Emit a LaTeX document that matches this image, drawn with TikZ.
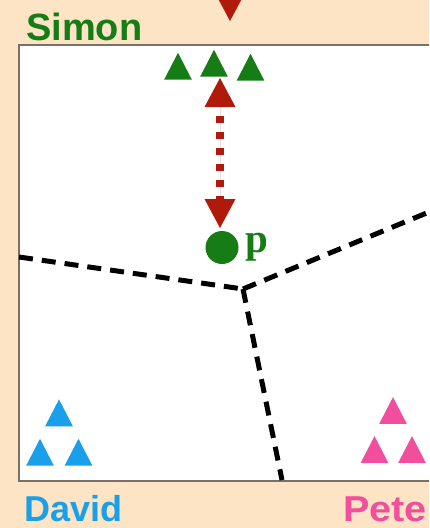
\documentclass[tikz,border=0pt]{standalone}
\usepackage{fontspec}
\setmainfont{Liberation Sans}
\newfontfamily\pfont{Liberation Serif}
\usetikzlibrary{shapes.geometric,arrows.meta}
\definecolor{peach}{HTML}{FCE4C4}
\definecolor{framegray}{HTML}{7A7066}
\definecolor{sgreen}{HTML}{167D16}
\definecolor{ared}{HTML}{B01A0A}
\definecolor{dblue}{HTML}{1AA0EA}
\definecolor{ppink}{HTML}{F24E9E}
\tikzset{
  bighead/.tip={Triangle[width=31pt,length=29pt,line width=0pt]},
  tophead/.tip={Triangle[width=32pt,length=30pt,line width=0pt]}
}
\begin{document}
\begin{tikzpicture}[x=1pt,y=-1pt,
  tri/.style={regular polygon, regular polygon sides=3, minimum size=32pt, inner sep=0pt, yscale=1.12, fill=#1},
  lbl/.style={anchor=base west, inner sep=0pt, font=\bfseries\fontsize{36}{38}\selectfont, text=#1},
  vor/.style={line width=5pt, dash pattern=on 14pt off 9pt, black},
  shaft/.style={line width=7.5pt, draw=ared, fill=ared, dash pattern=on 7pt off 9pt, dash phase=7pt}
]
\useasboundingbox (0,0) rectangle (429,528);
\clip (0,0) rectangle (429,528);
\fill[peach] (0,0) rectangle (429,528);
\draw[fill=white, draw=framegray, line width=1.5pt] (19,45) rectangle (445,481);

% Voronoi dashed lines
\coordinate (J) at (243,289);
\coordinate (L) at (19,257);
\coordinate (R) at (429,212);
\coordinate (B) at (282,480);
\draw[vor] (L) -- (J);
\draw[vor] (J) -- (R);
\draw[vor] (J) -- (B);

% Simon triangles
\node[tri=sgreen] (g1) at (178,70.7) {};
\node[tri=sgreen] (g2) at (214,67.7) {};
\node[tri=sgreen] (g3) at (250.5,71.7) {};

% David triangles
\node[tri=dblue] (d1) at (59,417.3) {};
\node[tri=dblue] (d2) at (40,456.7) {};
\node[tri=dblue] (d3) at (78.5,456.7) {};

% Peter triangles
\node[tri=ppink] (q1) at (393,415) {};
\node[tri=ppink] (q2) at (374.5,454) {};
\node[tri=ppink] (q3) at (412,454) {};

% point p
\node[circle, fill=sgreen, minimum size=33pt, inner sep=0pt] (p) at (222,247.5) {};
\node[anchor=base west, inner sep=0pt, text=sgreen, font=\pfont\bfseries\fontsize{41}{43}\selectfont] (plab) at (245,252) {p};

% double arrow
\coordinate (atop) at (220,78);
\coordinate (abot) at (220,228);
\draw[shaft, bighead-bighead] (atop) -- (abot);

% incoming arrow at top
\coordinate (tstart) at (230,-40);
\coordinate (ttip) at (230,21);
\draw[line width=7pt, draw=ared, fill=ared, -tophead] (tstart) -- (ttip);

% labels
\node[lbl=sgreen, font=\bfseries\fontsize{38}{40}\selectfont] (simon) at (26,40) {Simon};
\node[lbl=dblue] (david) at (24,521) {David};
\node[lbl=ppink, xscale=1.1] (peter) at (343,521) {Pete};
\end{tikzpicture}
\end{document}
